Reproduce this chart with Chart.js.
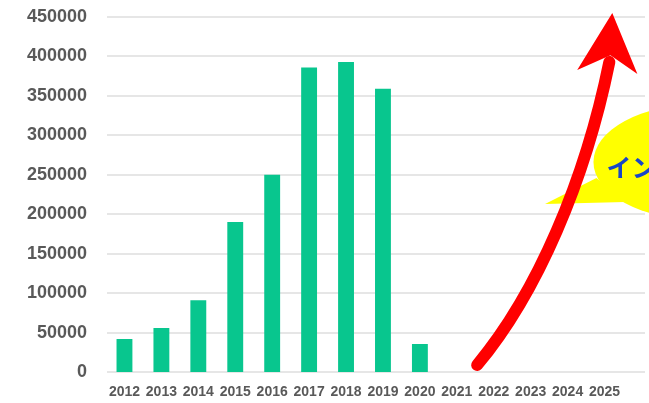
<!DOCTYPE html>
<html>
<head>
<meta charset="utf-8">
<script src="https://cdn.jsdelivr.net/npm/chart.js@4.4.1/dist/chart.umd.min.js"></script>
<style>
  html, body { margin: 0; padding: 0; background: #ffffff; }
  #wrap { width: 649px; height: 403px; }
</style>
</head>
<body>
<div id="wrap"><canvas id="c" width="649" height="403"></canvas></div>
<script>
// Yearly visitor counts
const years = ['2012','2013','2014','2015','2016','2017','2018','2019','2020','2021','2022','2023','2024','2025'];
const visitors = [41800, 55800, 91000, 190000, 250000, 386000, 393000, 359000, 35500, null, null, null, null, null];
const yTicks = [0, 50000, 100000, 150000, 200000, 250000, 300000, 350000, 400000, 450000];
const bubbleText = 'インバウンド';

const tickColor = '#595959';
const gridColor = '#e6e6e6';

// Background grid lines that run a little past the last category
const gridPlugin = {
  id: 'wideGrid',
  beforeDatasetsDraw(chart) {
    const { ctx, chartArea, scales: { y } } = chart;
    ctx.save();
    ctx.strokeStyle = gridColor;
    ctx.lineWidth = 2;
    yTicks.forEach(v => {
      const py = Math.round(y.getPixelForValue(v));
      ctx.beginPath();
      ctx.moveTo(chartArea.left + 1, py);
      ctx.lineTo(chartArea.right + 22, py);
      ctx.stroke();
    });
    ctx.restore();
  }
};

// Speech bubble and the rising red arrow, placed in (category index, value) units
const overlayPlugin = {
  id: 'overlay',
  afterDatasetsDraw(chart) {
    const { ctx, scales: { x, y } } = chart;
    const P = (i, v) => [x.getPixelForValue(i), y.getPixelForValue(v)];
    const unitX = x.getPixelForValue(1) - x.getPixelForValue(0);
    const unitY = y.getPixelForValue(0) - y.getPixelForValue(50000);

    ctx.save();
    // bubble
    const [cx, cy] = P(15.6, 266200);
    const rx = 2.9 * unitX, ry = 73500 / 50000 * unitY;
    ctx.fillStyle = '#ffff00';
    ctx.beginPath();
    ctx.ellipse(cx, cy, rx, ry, 0, 0, Math.PI * 2);
    ctx.fill();
    const t0 = P(11.39, 213000), t1 = P(12.78, 245900), t2 = P(13.56, 215500);
    ctx.beginPath();
    ctx.moveTo(t1[0], t1[1]);
    ctx.lineTo(t0[0], t0[1]);
    ctx.lineTo(t2[0], t2[1]);
    ctx.closePath();
    ctx.fill();
    const [tx, ty] = P(13.05, 259000);
    ctx.fillStyle = '#1846c9';
    ctx.font = 'bold 25px "Noto Sans CJK JP"';
    ctx.textBaseline = 'middle';
    ctx.textAlign = 'left';
    ctx.fillText(bubbleText, tx, ty);

    // arrow shaft
    const a0 = P(9.55, 8900), a1 = P(11.18, 100100), a2 = P(12.48, 243400), a3 = P(13.13, 393000);
    ctx.strokeStyle = '#ff0000';
    ctx.lineWidth = 12;
    ctx.lineCap = 'round';
    ctx.beginPath();
    ctx.moveTo(a0[0], a0[1]);
    ctx.bezierCurveTo(a1[0], a1[1], a2[0], a2[1], a3[0], a3[1]);
    ctx.stroke();
    // arrow head
    const h0 = P(13.21, 455100), h1 = P(12.26, 382800), h2 = P(13.16, 401500), h3 = P(13.89, 377800);
    ctx.fillStyle = '#ff0000';
    ctx.beginPath();
    ctx.moveTo(h0[0], h0[1]);
    ctx.lineTo(h1[0], h1[1]);
    ctx.lineTo(h2[0], h2[1]);
    ctx.lineTo(h3[0], h3[1]);
    ctx.closePath();
    ctx.fill();
    ctx.restore();
  }
};

new Chart(document.getElementById('c'), {
  type: 'bar',
  data: {
    labels: years,
    datasets: [{
      data: visitors,
      backgroundColor: '#08c68e',
      borderWidth: 0,
      categoryPercentage: 1,
      barPercentage: 0.43
    }]
  },
  options: {
    responsive: false,
    animation: false,
    events: [],
    layout: { padding: { top: 17, right: 26, left: 0, bottom: 0 } },
    plugins: { legend: { display: false }, tooltip: { enabled: false } },
    scales: {
      x: {
        afterFit(scale) { scale.height = 31; },
        grid: { display: false, drawTicks: false },
        border: { display: false },
        ticks: {
          color: tickColor,
          font: { family: '"Liberation Sans", Arial, sans-serif', size: 14, weight: 'bold' },
          padding: 12,
          maxRotation: 0,
          autoSkip: false
        }
      },
      y: {
        min: 0,
        max: 450000,
        afterFit(scale) {
          scale.width = 106;
          scale.paddingTop = 0;
          scale.paddingBottom = 0;
        },
        afterBuildTicks(scale) { scale.ticks = yTicks.map(v => ({ value: v })); },
        grid: { display: false, drawTicks: false },
        border: { display: false },
        ticks: {
          color: tickColor,
          font: { family: '"Liberation Sans", Arial, sans-serif', size: 18, weight: 'bold' },
          padding: 19,
          callback: v => String(v)
        }
      }
    }
  },
  plugins: [gridPlugin, overlayPlugin]
});
</script>
</body>
</html>
